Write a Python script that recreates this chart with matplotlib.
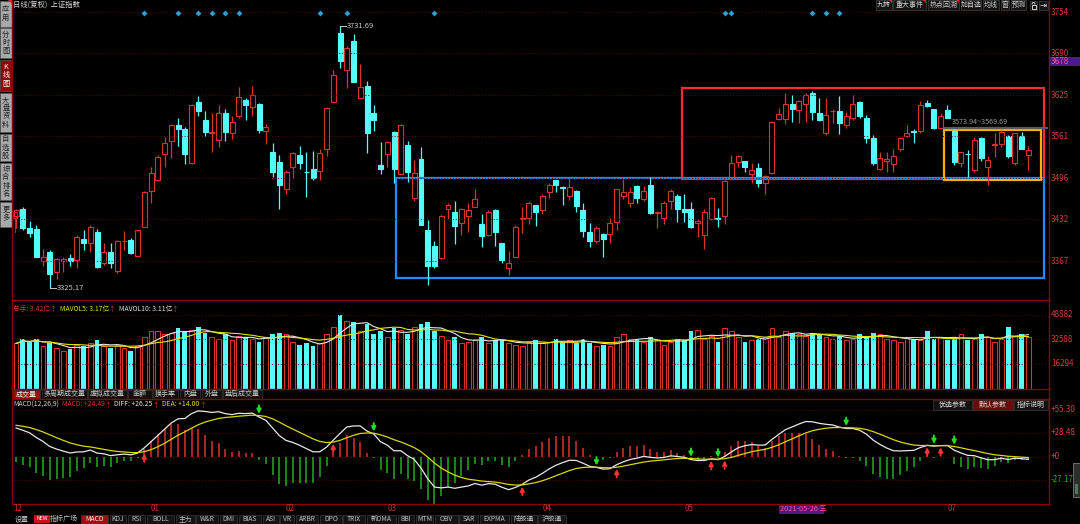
import numpy as np
import pandas as pd
import matplotlib
matplotlib.use('Agg')
import matplotlib.pyplot as plt
from matplotlib.patches import Rectangle, Polygon, Arc

plt.rcParams['font.family'] = ['Noto Sans CJK SC', 'DejaVu Sans']

# ---- daily candles of 上证指数 ----
opens = [3438, 3448, 3418, 3417, 3367, 3382, 3351, 3368, 3372, 3369,
         3401, 3396, 3412, 3364, 3382, 3352, 3398, 3400, 3376, 3421,
         3476, 3494, 3533, 3554, 3578, 3572, 3519, 3614, 3586, 3567,
         3556, 3598, 3566, 3593, 3618, 3607, 3612, 3570, 3536, 3522,
         3479, 3513, 3532, 3506, 3510, 3508, 3541, 3615, 3722, 3664,
         3709, 3620, 3640, 3597, 3516, 3533, 3568, 3502, 3548, 3465,
         3526, 3416, 3391, 3372, 3449, 3443, 3426, 3438, 3452, 3425,
         3408, 3446, 3395, 3356, 3374, 3432, 3434, 3454, 3446, 3474,
         3494, 3483, 3469, 3476, 3447, 3412, 3398, 3410, 3409, 3428,
         3469, 3458, 3484, 3464, 3485, 3442, 3434, 3460, 3469, 3448,
         3448, 3426, 3408, 3432, 3434, 3438, 3496, 3522, 3523, 3502,
         3512, 3489, 3504, 3588, 3588, 3612, 3602, 3611, 3628, 3597,
         3567, 3600, 3600, 3578, 3590, 3615, 3590, 3558, 3510, 3523,
         3518, 3542, 3562, 3570, 3570, 3613, 3603, 3574, 3602, 3571,
         3519, 3534, 3509, 3558, 3514, 3548, 3549, 3562, 3520, 3562,
         3532]
highs = [3449, 3451, 3430, 3424, 3386, 3385, 3372, 3374, 3379, 3408,
         3416, 3424, 3417, 3395, 3396, 3400, 3414, 3403, 3416, 3476,
         3514, 3532, 3560, 3580, 3589, 3575, 3611, 3624, 3600, 3597,
         3610, 3604, 3592, 3638, 3620, 3639, 3613, 3580, 3550, 3532,
         3509, 3537, 3546, 3536, 3538, 3542, 3606, 3664, 3731.69, 3701,
         3720, 3674, 3647, 3610, 3552, 3554, 3569, 3580, 3554, 3524,
         3544, 3431, 3399, 3439, 3457, 3460, 3450, 3458, 3479, 3440,
         3446, 3448, 3396, 3383, 3423, 3451, 3460, 3455, 3471, 3488,
         3494, 3484, 3497, 3477, 3457, 3426, 3422, 3411, 3434, 3480,
         3495, 3482, 3485, 3484, 3498, 3445, 3460, 3479, 3471, 3472,
         3459, 3432, 3449, 3467, 3450, 3493, 3532, 3532, 3523, 3519,
         3519, 3501, 3585, 3605, 3628, 3625, 3618, 3628, 3631, 3620,
         3620, 3603, 3624, 3599, 3626, 3616, 3594, 3563, 3537, 3537,
         3541, 3560, 3579, 3572, 3616, 3617, 3603, 3597, 3610, 3574,
         3537, 3540, 3560, 3560, 3531, 3566, 3571, 3563, 3567, 3568,
         3546]
lows = [3418, 3415, 3404, 3373, 3359, 3325.17, 3340, 3350, 3360, 3356,
        3385, 3382, 3356, 3361, 3356, 3349, 3385, 3378, 3376, 3421,
        3458, 3492, 3514, 3528, 3546, 3518, 3518, 3592, 3562, 3536,
        3545, 3554, 3557, 3589, 3586, 3593, 3567, 3549, 3498, 3448,
        3472, 3497, 3510, 3467, 3494, 3494, 3530, 3615, 3667, 3636,
        3645, 3619, 3535, 3570, 3503, 3514, 3488, 3502, 3490, 3460,
        3423, 3330, 3356, 3371, 3433, 3394, 3408, 3412, 3451, 3390,
        3406, 3391, 3364, 3346, 3374, 3411, 3425, 3422, 3440, 3465,
        3474, 3454, 3462, 3444, 3405, 3390, 3395, 3374, 3396, 3416,
        3464, 3452, 3458, 3460, 3440, 3419, 3425, 3448, 3428, 3428,
        3419, 3404, 3386, 3431, 3421, 3425, 3495, 3513, 3506, 3488,
        3482, 3471, 3503, 3587, 3581, 3584, 3582, 3584, 3586, 3585,
        3563, 3582, 3565, 3574, 3587, 3589, 3550, 3516, 3509, 3505,
        3506, 3539, 3560, 3550, 3566, 3607, 3572, 3572, 3590, 3516,
        3513, 3498, 3506, 3523, 3485, 3529, 3545, 3528, 3516, 3541,
        3509]
closes = [3446, 3418, 3411, 3374, 3374, 3348, 3370, 3370, 3368, 3405,
          3396, 3421, 3358, 3382, 3364, 3398, 3399, 3380, 3415, 3474,
          3504, 3529, 3551, 3578, 3572, 3534, 3610, 3601, 3568, 3568,
          3598, 3568, 3584, 3622, 3609, 3626, 3571, 3575, 3506, 3485,
          3506, 3535, 3519, 3505, 3497, 3535, 3605, 3656, 3678, 3698,
          3645, 3638, 3566, 3587, 3511, 3552, 3510, 3578, 3505, 3504,
          3423, 3360, 3359, 3438, 3454, 3422, 3448, 3446, 3464, 3406,
          3444, 3413, 3369, 3364, 3420, 3435, 3458, 3444, 3468, 3485,
          3485, 3481, 3483, 3453, 3414, 3398, 3418, 3401, 3427, 3479,
          3474, 3474, 3466, 3476, 3442, 3444, 3458, 3476, 3448, 3443,
          3420, 3430, 3443, 3465, 3433, 3491, 3520, 3530, 3513, 3509,
          3489, 3499, 3583, 3595, 3611, 3603, 3616, 3626, 3599, 3586,
          3594, 3601, 3582, 3593, 3612, 3592, 3558, 3520, 3527, 3526,
          3530, 3558, 3567, 3568, 3609, 3608, 3574, 3593, 3590, 3521,
          3536, 3533, 3555, 3528, 3525, 3549, 3568, 3530, 3566, 3541,
          3540]
# 成交量 (万手)
volumes = [30000, 33000, 31000, 33000, 28000, 30000, 27000, 25000, 26000, 29000,
           28000, 30000, 32000, 28000, 27000, 29000, 27000, 25000, 28000, 34000,
           38000, 38000, 36000, 37000, 40000, 38000, 39000, 41000, 37000, 34000,
           33000, 36000, 32000, 35000, 34000, 33000, 31000, 34000, 36000, 37000,
           36000, 31000, 29000, 30000, 28000, 30000, 36000, 41000, 49000, 45000,
           44000, 38000, 43000, 36000, 38000, 34000, 40000, 39000, 36000, 41000,
           43000, 44000, 38000, 35000, 32000, 34000, 30000, 31000, 33000, 34000,
           30000, 32000, 33000, 30000, 29000, 28000, 31000, 32000, 30000, 31000,
           33000, 31000, 32000, 30000, 33000, 30000, 28000, 29000, 28000, 34000,
           36000, 33000, 32000, 31000, 34000, 32000, 29000, 31000, 33000, 32000,
           38000, 39000, 33000, 35000, 31000, 40000, 38000, 34000, 31000, 32000,
           33000, 34000, 40000, 34200, 38000, 37000, 36000, 35000, 37000, 36000,
           34000, 33000, 35000, 32000, 33000, 36000, 34000, 37000, 36000, 33000,
           32000, 31000, 34000, 33000, 32000, 38000, 33000, 34000, 32000, 33000,
           36000, 32000, 33000, 36000, 34000, 31000, 33000, 41000, 35000, 36000,
           34200]

months = ['12', '01', '02', '03', '04', '05', '07']
month_idx = [0, 20, 40, 55, 78, 99, 138]
cursor_idx = 113
cursor_date = '2021-05-26 三'
price_ticks = [3754, 3690, 3625, 3561, 3496, 3432, 3367]
vol_ticks = [48882, 32588, 16294]
macd_ticks = [55.30, 28.48, 0, -27.17]
macd_labels = ['+55.30', '+28.48', '+0', '-27.17']
event_idx = [19, 24, 27, 29, 31, 33, 45, 49, 62, 105, 106, 118, 120, 122]
# MACD state before the first candle, estimated from the left edge of the panel
ema12_start, ema26_start, dea_start = 3415, 3381, 38

RED = '#e0302c'
CYAN = '#54fcfc'
GRID = '#5c0a0a'
AXRED = '#8c0000'
LBL = '#d23c3c'
GRN = '#1fb01f'
FS = 5.3

W, H = 1080, 524
fig = plt.figure(figsize=(10.8, 5.24), dpi=100, facecolor='black')
renderer = fig.canvas.get_renderer()


def px(x0, y0, x1, y1):
    return [x0 / W, 1 - y1 / H, (x1 - x0) / W, (y1 - y0) / H]


def ftext(x, y, s, **kw):
    kw.setdefault('fontsize', FS)
    kw.setdefault('va', 'center')
    return fig.text(x / W, 1 - y / H, s, **kw)


def chain(x, y, parts, **kw):
    # consecutive coloured pieces of one header line
    for s, col, gap in parts:
        t = ftext(x, y, s, color=col, **kw)
        x += t.get_window_extent(renderer=renderer).width + gap
    return x


def fbox(x0, y0, x1, y1, fc, ec='none', lw=0.8):
    fig.patches.append(Rectangle((x0 / W, 1 - y1 / H), (x1 - x0) / W, (y1 - y0) / H,
                                 transform=fig.transFigure, facecolor=fc,
                                 edgecolor=ec, lw=lw))


def fline(xs, ys, color, lw=1.0, **kw):
    fig.add_artist(plt.Line2D([x / W for x in xs], [1 - y / H for y in ys],
                              color=color, lw=lw, **kw))


n = len(closes)
idx = np.arange(n)
xlim = (-0.6, 152.9)

# ---------------- price panel ----------------
ax = fig.add_axes(px(12, 0, 1048, 299))
ax.set_xlim(*xlim)
ax.set_ylim(3308.5, 3772.8)
ax.axis('off')
for p in price_ticks:
    ax.axhline(p, color=GRID, lw=0.7, ls=(0, (1, 2)))
    ax.text(1.003, p, str(p), transform=ax.get_yaxis_transform(), color=LBL,
            fontsize=5.8, va='center', ha='left', clip_on=False)

for i in idx:
    o, h, l, c = opens[i], highs[i], lows[i], closes[i]
    up = c >= o
    col = RED if up else CYAN
    top, bot = max(o, c), min(o, c)
    ax.vlines(i, top, h, color=col, lw=0.9)
    ax.vlines(i, l, bot, color=col, lw=0.9)
    if top - bot < 1.0:
        ax.hlines(top, i - 0.37, i + 0.37, color=col, lw=1.1)
    else:
        ax.add_patch(Rectangle((i - 0.37, bot), 0.74, top - bot,
                               facecolor='black' if up else col,
                               edgecolor=col, lw=0.8))

# highest / lowest labels
hi = int(np.argmax(highs))
lo = int(np.argmin(lows))
ax.plot([hi, hi + 0.9], [highs[hi], highs[hi]], color='#c8c8c8', lw=0.7)
ax.text(hi + 1.0, highs[hi], '%.2f' % highs[hi], color='#c8c8c8', fontsize=5.5, va='center')
ax.plot([lo, lo + 0.9], [lows[lo], lows[lo]], color='#c8c8c8', lw=0.7)
ax.text(lo + 1.0, lows[lo], '%.2f' % lows[lo], color='#c8c8c8', fontsize=5.5, va='center')

# boxes drawn on the chart
ax.add_patch(Rectangle((98.7, 3494.8), 53.6, 141.3, fill=False, edgecolor='#ff2a2a', lw=1.6))
ax.add_patch(Rectangle((56.3, 3341), 96.0, 155.3, fill=False, edgecolor='#1e8cff', lw=1.6))
ax.add_patch(Rectangle((137.5, 3493), 14.4, 78, fill=False, edgecolor='#ffb000', lw=1.6))
ax.plot([137.7, 152.9], [3574.5, 3574.5], color='#5a5a5a', lw=1.6)
ax.text(138.6, 3583, '3573.94~3569.69', color='#9a9a9a', fontsize=5.2, va='center')

# event markers on the top row
for e in event_idx:
    ax.plot(e, 3752.5, marker='D', ms=3, color='#2a9fd6', mec='none', clip_on=False)

# ---------------- volume panel ----------------
axv = fig.add_axes(px(12, 303, 1048, 388.5))
axv.set_xlim(*xlim)
axv.set_ylim(0, 56860)
axv.axis('off')
for v in vol_ticks:
    axv.axhline(v, color=GRID, lw=0.7, ls=(0, (1, 2)))
    axv.text(1.003, v, str(v), transform=axv.get_yaxis_transform(), color=LBL,
             fontsize=5.8, va='center', ha='left', clip_on=False)
ups = np.array(closes) >= np.array(opens)
vol = np.array(volumes)
axv.bar(idx[ups], vol[ups], width=0.72, facecolor='black', edgecolor=RED, lw=0.8)
axv.bar(idx[~ups], vol[~ups], width=0.72, color=CYAN, lw=0)
vs = pd.Series(volumes, dtype=float)
axv.plot(idx, vs.rolling(5, min_periods=1).mean(), color='#e8e8e8', lw=0.8)
axv.plot(idx, vs.rolling(10, min_periods=1).mean(), color='#e6e600', lw=0.8)

# ---------------- MACD panel ----------------
axm = fig.add_axes(px(12, 399, 1048, 504))
axm.set_xlim(*xlim)
axm.set_ylim(-56.0, 68.3)
axm.axis('off')
for v, s in zip(macd_ticks, macd_labels):
    axm.axhline(v, color=GRID, lw=0.7, ls=(0, (1, 2)))
    axm.text(1.003, v, s, transform=axm.get_yaxis_transform(),
             color=GRN if v < 0 else LBL, fontsize=5.8, va='center', ha='left',
             clip_on=False)

e12, e26, dea = ema12_start, ema26_start, dea_start
diffs, deas = [], []
for c in closes:
    e12 += (c - e12) * 2 / 13
    e26 += (c - e26) * 2 / 27
    d = e12 - e26
    dea += (d - dea) * 2 / 10
    diffs.append(d)
    deas.append(dea)
diffs = np.array(diffs)
deas = np.array(deas)
hist = 2 * (diffs - deas)
axm.vlines(idx, 0, hist, colors=[RED if h >= 0 else GRN for h in hist], lw=1.1)
axm.plot(idx, diffs, color='#e8e8e8', lw=0.9)
axm.plot(idx, deas, color='#d8d800', lw=0.9)
sgn = np.sign(diffs - deas)
for i in range(1, n):
    if sgn[i] != sgn[i - 1]:
        if sgn[i] < 0:
            yv = max(diffs[i], deas[i])
            axm.annotate('', xy=(i, yv + 2), xytext=(i, yv + 12),
                         arrowprops=dict(arrowstyle='-|>', color='#20e020', lw=1.4,
                                         mutation_scale=6, shrinkA=0, shrinkB=0))
        else:
            yv = min(diffs[i], deas[i])
            axm.annotate('', xy=(i, yv - 2), xytext=(i, yv - 12),
                         arrowprops=dict(arrowstyle='-|>', color='#ff3030', lw=1.4,
                                         mutation_scale=6, shrinkA=0, shrinkB=0))

# ---------------- frame lines ----------------
fline([12, 12], [0, 504], AXRED)
fline([1048.5, 1048.5], [0, 504], AXRED)
for yy in [300, 388.5, 399, 504]:
    fline([12, 1050], [yy, yy], AXRED)

# ---------------- text / chrome ----------------
ftext(13, 5, '日线(复权)  上证指数', color='#d8d8d8')

# top right buttons
btns = [('九转', 876, 892, True), ('重大事件', 893, 926, True), ('热点回溯', 928, 959, True),
        ('加自选', 961, 981, False), ('均线', 983, 999, False), ('窗', 1001, 1009, False),
        ('预测', 1011, 1026, False)]
for s, x0, x1, tri in btns:
    fbox(x0, 0, x1, 10, '#141414', '#3a3a3a', 0.6)
    ftext((x0 + x1) / 2, 5, s, color='#d0d0d0', ha='center', fontsize=5.0)
    if tri:
        fig.patches.append(Polygon([[(x1 - 3) / W, 1], [x1 / W, 1], [x1 / W, 1 - 3 / H]],
                                   closed=True, transform=fig.transFigure, fc='#ff2020', ec='none'))
# lock and pin buttons (drawn as shapes)
fbox(1030, 1, 1037, 10, '#141414', '#3a3a3a', 0.6)
fbox(1031.5, 5, 1035.5, 9, 'none', '#d0d0d0', 0.7)
fig.patches.append(Arc((1033.5 / W, 1 - 4.5 / H), 3 / W, 4 / H, theta1=0, theta2=180,
                       transform=fig.transFigure, color='#d0d0d0', lw=0.7))
fbox(1039, 1, 1048, 10, '#141414', '#3a3a3a', 0.6)
ftext(1043.5, 5, '⇥', color='#e0e0e0', ha='center', fontsize=6, family='DejaVu Sans')

# cursor price label
fbox(1049, 57, 1080, 66, '#4b1a8c')
ftext(1051, 61.5, '3678', color='#ff4f8f', fontsize=5.8)

# left sidebar
tabs = [('应用', 1, 27), ('分时图', 28, 58), ('K线图', 60, 91), ('大盘资料', 93, 132),
        ('自选股', 134, 161), ('综合排名', 163, 200), ('更多', 202, 227)]
for s, y0, y1 in tabs:
    sel = s == 'K线图'
    fbox(0, y0, 11.5, y1, '#8c0a0a' if sel else '#a8a8a8', '#5a5a5a', 0.5)
    ftext(5.8, (y0 + y1) / 2, '\n'.join(s), color='#ffffff' if sel else '#202020',
          ha='center', fontsize=5.2, linespacing=1.05)
fig.patches.append(Polygon([[8 / W, 1], [12 / W, 1], [12 / W, 1 - 4 / H]], closed=True,
                           transform=fig.transFigure, fc='#ff2020', ec='none'))
fbox(13, 212, 17, 218, 'none', '#c81e1e', 0.8)
fline([15, 15], [218, 232], '#c81e1e', 0.8)

# volume header
chain(13, 309.5, [('总手: 3.42亿', '#e03030', -1), ('↑', '#e03030', 4),
                  ('MAVOL5: 3.17亿', '#e6e600', -1), ('↑', '#e03030', 4),
                  ('MAVOL10: 3.11亿', '#e0e0e0', -1), ('↑', '#e03030', 0)], fontsize=4.9)

# volume tabs
vtabs = [('成交量', 12.5, 40), ('多周期成交量', 42, 87), ('虚拟成交量', 88, 127),
         ('金额', 128, 152), ('换手率', 153, 178), ('内盘', 180, 200), ('外盘', 202, 222),
         ('盘后成交量', 223, 262)]
for s, x0, x1 in vtabs:
    sel = s == '成交量'
    fbox(x0, 389.5, x1, 398.5, '#9a1010' if sel else '#101010', '#3a3a3a', 0.5)
    ftext((x0 + x1) / 2, 394, s, color='#f0f0f0' if sel else '#c8c8c8', ha='center', fontsize=5.0)

# MACD header
chain(13, 404.5, [('MACD(12,26,9)', '#d0d0d0', 3), ('MACD: +24.49', '#e03030', -1),
                  ('↑', '#e03030', 4), ('DIFF: +26.25', '#e8e8e8', -1), ('↑', '#e03030', 4),
                  ('DEA: +14.00', '#e6e600', -1), ('↑', '#e03030', 0)], fontsize=4.9)

mbtns = [('优选参数', 933, 972, False), ('默认参数', 973, 1013, True), ('指标说明', 1014, 1048, False)]
for s, x0, x1, sel in mbtns:
    fbox(x0, 399.5, x1, 409.5, '#6e0a0a' if sel else '#121212', '#3a3a3a', 0.5)
    ftext((x0 + x1) / 2, 404.5, s, color='#d8d8d8', ha='center', fontsize=5.0)

# scroll handle on the right
fbox(1073, 463, 1080, 497, '#2e2e2e', '#7a7a7a', 0.6)
fbox(1075, 484, 1078, 494, '#4a7a5a')

# month labels on the date axis
for m, i in zip(months, month_idx):
    x = 16 + 6.75 * i if i else 13
    ftext(x, 508.5, m, color='#c83232', fontsize=5.8)
cx = 16 + 6.75 * cursor_idx
fbox(cx, 503.5, cx + 45, 514, '#4b1a8c')
ftext(cx + 1.5, 508.7, cursor_date, color='#ff4f8f', fontsize=5.3)

# bottom indicator tabs
btabs = [('MACD', 80.5, 108), ('KDJ', 110, 126), ('RSI', 128, 145), ('BOLL', 147, 174),
         ('主力', 176, 195), ('W&R', 196, 218), ('DMI', 220, 237), ('BIAS', 239, 261),
         ('ASI', 263, 279), ('VR', 280, 294), ('ARBR', 296, 318), ('DPO', 320, 342),
         ('TRIX', 343, 365), ('新DMA', 367, 396), ('BBI', 398, 414), ('MTM', 416, 433),
         ('OBV', 435, 458), ('SAR', 459, 478), ('EXPMA', 480, 509), ('陆股通', 511, 537),
         ('沪股通', 538, 566)]
ftext(22, 519, '设置', color='#c8c8c8', ha='center', fontsize=5.0)
fbox(34, 515, 49.5, 523, '#d01010')
ftext(41.8, 519, 'NEW', color='#ffffff', ha='center', fontsize=3.8)
ftext(64, 519, '指标广场', color='#c8c8c8', ha='center', fontsize=5.0)
for s, x0, x1 in btabs:
    sel = s == 'MACD'
    fbox(x0, 514.5, x1, 524, '#a01010' if sel else '#141414', '#3a3a3a', 0.5)
    ftext((x0 + x1) / 2, 519.3, s, color='#f0f0f0' if sel else '#c0c0c0', ha='center',
          fontsize=4.9)

fig.savefig('out.png', dpi=100, facecolor='black')
